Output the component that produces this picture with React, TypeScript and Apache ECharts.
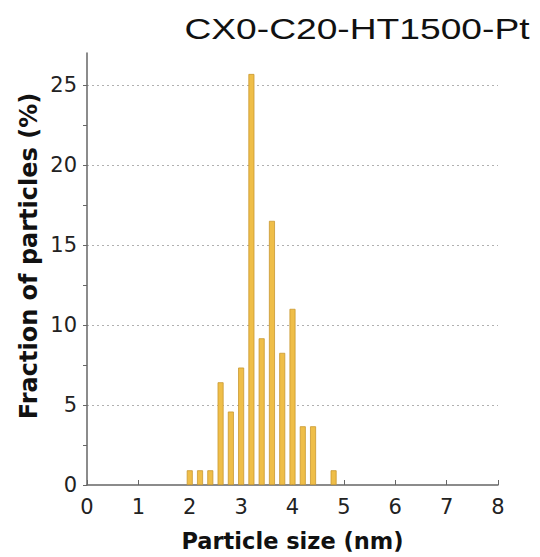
import React, { useEffect, useRef } from "react";
import * as echarts from "echarts";

const titleText = "CX0-C20-HT1500-Pt";
const xAxisName = "Particle size (nm)";
const yAxisName = "Fraction of particles (%)";
const sizes = [2.0, 2.2, 2.4, 2.6, 2.8, 3.0, 3.2, 3.4, 3.6, 3.8, 4.0, 4.2, 4.4, 4.8];
const fractions = [0.92, 0.92, 0.92, 6.42, 4.59, 7.34, 25.69, 9.17, 16.51, 8.26, 11.01, 3.67, 3.67, 0.92];
const yLabelValues = [0, 5, 10, 15, 20, 25];
const yTickValues = [0, 2.5, 5, 7.5, 10, 12.5, 15, 17.5, 20, 22.5, 25];
const gridValues = [5, 10, 15, 20, 25];

export default function App() {
  const ref = useRef<HTMLDivElement>(null);
  useEffect(() => {
    if (!ref.current) return;
    const chart = echarts.init(ref.current, null, { renderer: "svg" });
    const font = "'DejaVu Sans', Verdana, sans-serif";
    chart.setOption({
      animation: false,
      backgroundColor: "#ffffff",
      graphic: [
        {
          type: "text",
          x: 357,
          y: 28,
          scaleX: 1.24,
          style: {
            text: titleText,
            fontFamily: "'Liberation Sans', Arial, sans-serif",
            fontSize: 30,
            fontWeight: "normal",
            fill: "#111",
            textAlign: "center",
            textVerticalAlign: "middle",
          },
        },
        {
          type: "text",
          x: 29,
          y: 256,
          rotation: Math.PI / 2,
          style: {
            text: yAxisName,
            fontFamily: font,
            fontSize: 24,
            fontWeight: "bold",
            fill: "#111",
            textAlign: "center",
            textVerticalAlign: "middle",
          },
        },
      ],
      grid: { left: 87, right: 42, top: 53, bottom: 72, containLabel: false },
      xAxis: {
        type: "value",
        min: 0,
        max: 8,
        interval: 1,
        name: xAxisName,
        nameLocation: "middle",
        nameGap: 44,
        nameTextStyle: { fontFamily: font, fontSize: 22.5, fontWeight: "bold", color: "#111" },
        axisLine: { show: true, lineStyle: { color: "#666", width: 1.5 } },
        axisTick: { show: true, inside: true, length: 5, lineStyle: { color: "#666" } },
        axisLabel: { fontFamily: font, fontSize: 21, color: "#222", margin: 11 },
        splitLine: { show: false },
      },
      yAxis: {
        type: "value",
        min: 0,
        max: 27,
        interval: 5,
        axisLine: { show: true, lineStyle: { color: "#666", width: 1.5 } },
        axisTick: { show: true, length: 4, customValues: yTickValues, lineStyle: { color: "#666" } },
        axisLabel: { fontFamily: font, fontSize: 21, color: "#222", margin: 10, customValues: yLabelValues },
        splitLine: { show: false },
      },
      series: [
        {
          type: "bar",
          data: sizes.map((s, i) => [s, fractions[i]]),
          barWidth: 6,
          itemStyle: { color: "#EFBE48", borderColor: "#C99830", borderWidth: 0.8 },
          markLine: {
            silent: true,
            symbol: "none",
            label: { show: false },
            lineStyle: { color: "#b0b0b0", type: [2, 3], width: 1 },
            data: gridValues.map((v) => ({ yAxis: v })),
            z: 0,
          },
          z: 2,
        },
      ],
    });
    return () => chart.dispose();
  }, []);
  return <div ref={ref} style={{ position: "absolute", left: 0, top: 0, width: 540, height: 557 }} />;
}
